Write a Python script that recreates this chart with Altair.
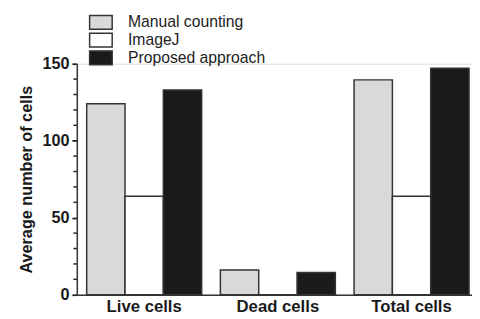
import altair as alt
import pandas as pd

categories = ["Live cells", "Dead cells", "Total cells"]
methods = ["Manual counting", "ImageJ", "Proposed approach"]
manual = [124, 16, 139.5]
imagej = [64, 0, 64]
proposed = [133, 14.5, 147]
colors = ["#d9d9d9", "#ffffff", "#1a1a1a"]
major_ticks = [0, 50, 100, 150]
minor_ticks = [10, 20, 30, 40, 60, 70, 80, 90, 110, 120, 130, 140]

rows = []
for i, c in enumerate(categories):
    for m, vals in zip(methods, [manual, imagej, proposed]):
        rows.append({"category": c, "method": m, "value": vals[i]})
df = pd.DataFrame(rows)
minor_df = pd.DataFrame({"value": minor_ticks})

font = "Liberation Sans"
dark = "#333333"

yscale = alt.Scale(domain=[0, 150], nice=False)

bars = alt.Chart(df).mark_bar(stroke=dark, strokeWidth=1.5).encode(
    x=alt.X(
        "category:N", sort=categories, title=None,
        scale=alt.Scale(paddingInner=0.14, paddingOuter=0.048, align=0.77),
        axis=alt.Axis(labelAngle=0, labelFont=font, labelFontSize=17,
                      labelFontWeight="bold", labelColor="#1a1a1a", ticks=False,
                      domainColor=dark, domainWidth=1.5, labelPadding=4),
    ),
    xOffset=alt.XOffset("method:N", sort=methods,
                        scale=alt.Scale(paddingInner=0, paddingOuter=0)),
    y=alt.Y(
        "value:Q", scale=yscale,
        title="Average number of cells",
        axis=alt.Axis(values=major_ticks, tickSize=5,
                      tickColor="#222222", tickWidth=1.8, domainColor=dark, domainWidth=1.5,
                      labelFont=font, labelFontSize=16.5, labelFontWeight="bold",
                      labelColor="#1a1a1a", labelPadding=3, grid=False,
                      titleFont=font, titleFontSize=16.5, titleFontWeight="bold",
                      titleColor="#1a1a1a", titlePadding=8),
    ),
    color=alt.Color(
        "method:N", sort=methods,
        scale=alt.Scale(domain=methods, range=colors),
        legend=alt.Legend(orient="none", legendX=16.5, legendY=-50, title=None,
                          symbolType="M-1.64,-1H1.64V1H-1.64Z", symbolSize=196,
                          symbolStrokeColor=dark, symbolStrokeWidth=1.5,
                          symbolOpacity=1, labelFont=font, labelFontSize=16,
                          labelColor="#222222", labelOffset=19.5, rowPadding=-2,
                          padding=0),
    ),
)

minor = alt.Chart(minor_df).mark_tick(
    orient="horizontal", size=3.5, thickness=1.5, color="#222222", opacity=1
).encode(
    y=alt.Y("value:Q", scale=yscale),
    x=alt.value(-1.75),
)

chart = alt.layer(bars, minor).properties(
    width=402, height=235,
    autosize=alt.AutoSizeParams(type="none"),
    padding={"left": 70, "top": 54, "right": 0, "bottom": 21},
).configure_view(stroke=None).configure(background="white")

chart.save("out.html", embed_options={"renderer": "svg", "actions": False})
